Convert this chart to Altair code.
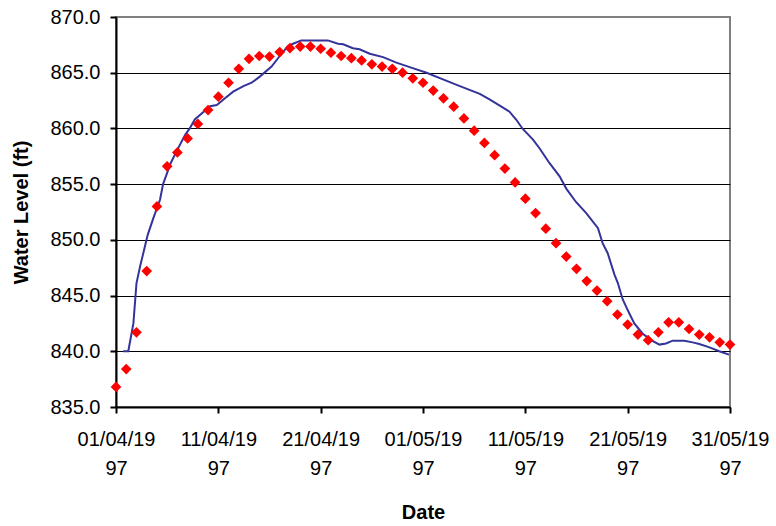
import altair as alt
import pandas as pd

# Daily observed water levels, 1 April - 31 May 1997
obs_start = "1997-04-01"
obs_level = [836.8, 838.4, 841.7, 847.2, 853.0, 856.6, 857.85, 859.1, 860.4, 861.65,
             862.85, 864.1, 865.35, 866.25, 866.5, 866.45, 866.85, 867.2, 867.35, 867.35,
             867.15, 866.8, 866.5, 866.3, 866.1, 865.75, 865.55, 865.35, 865.0, 864.5,
             864.1, 863.4, 862.7, 861.95, 860.9, 859.8, 858.7, 857.6, 856.4, 855.15,
             853.7, 852.4, 851.0, 849.7, 848.5, 847.4, 846.3, 845.45, 844.5, 843.3,
             842.4, 841.5, 841.0, 841.7, 842.6, 842.6, 842.0, 841.5, 841.25, 840.8, 840.6]

# Simulated water level (time in days after 1 April 1997)
sim_day = [0.7, 1.2, 1.7, 2.0, 2.35, 3.1, 3.65, 4.3, 4.6, 5.35,
           6.0, 6.75, 7.2, 7.7, 8.2, 9.2, 9.85, 10.65, 11.45, 12.45,
           13.25, 14.05, 15.2, 16.0, 16.8, 17.3, 18.1, 20.7, 21.7, 22.2,
           23.15, 23.8, 24.8, 26.1, 27.4, 28.7, 30.35, 31.95, 33.6, 35.55,
           36.5, 37.5, 38.45, 39.1, 39.75, 40.75, 41.4, 42.35, 43.35, 44.0,
           44.95, 45.95, 47.1, 47.55, 48.05, 48.7, 49.05, 49.5, 50.0, 50.65,
           51.45, 52.3, 53.1, 53.75, 54.4, 55.55, 56.35, 57.0, 58.0, 58.95, 59.9]
sim_level = [840.0, 840.0, 842.5, 846.1, 847.6, 850.45, 851.95, 853.6, 855.0, 856.9,
             858.1, 859.4, 860.0, 860.8, 861.2, 862.0, 862.1, 862.7, 863.3, 863.8,
             864.1, 864.65, 865.55, 866.5, 867.4, 867.6, 867.9, 867.9, 867.6, 867.55,
             867.2, 867.1, 866.7, 866.4, 865.9, 865.5, 865.0, 864.4, 863.8, 863.1,
             862.6, 862.05, 861.5, 860.8, 859.95, 859.0, 858.2, 856.9, 855.7, 854.6,
             853.4, 852.4, 851.05, 849.7, 848.8, 846.9, 846.1, 844.7, 843.7, 842.5,
             841.6, 841.0, 840.6, 840.7, 840.95, 840.95, 840.8, 840.65, 840.35, 840.0, 839.7]

y_ticks = [835, 840, 845, 850, 855, 860, 865, 870]
tick_dates = ["1997-04-01", "1997-04-11", "1997-04-21", "1997-05-01",
              "1997-05-11", "1997-05-21", "1997-05-31"]

start = pd.Timestamp(obs_start)
fmt = "%Y-%m-%dT%H:%M:%S"
obs = pd.DataFrame({
    "date": pd.date_range(start, periods=len(obs_level), freq="D").strftime(fmt),
    "level": obs_level,
})
sim = pd.DataFrame({
    "date": (start + pd.to_timedelta(sim_day, unit="D")).strftime(fmt),
    "level": sim_level,
})

def dt(s):
    t = pd.Timestamp(s)
    return alt.DateTime(year=t.year, month=t.month, date=t.day)

FONT = "Liberation Sans"

x_enc = alt.X(
    "date:T",
    scale=alt.Scale(domain=[dt(tick_dates[0]), dt(tick_dates[-1])]),
    axis=alt.Axis(
        title="Date",
        values=[dt(d) for d in tick_dates],
        labelExpr="[slice(timeFormat(datum.value, '%d/%m/%Y'), 0, 8), slice(timeFormat(datum.value, '%d/%m/%Y'), 8)]",
        labelLineHeight=29,
        labelPadding=16,
        titlePadding=24,
        grid=False,
        labelOverlap=False,
        labelFlush=False,
    ),
)
y_enc_axis = alt.Axis(
    title="Water Level (ft)",
    values=y_ticks,
    format=".1f",
    labelPadding=10,
    titlePadding=18,
    grid=True,
    gridColor=alt.condition("datum.value >= 870", alt.value("#808080"), alt.value("black")),
    gridWidth=1,
)
y_scale = alt.Scale(domain=[835, 870], nice=False, zero=False)

line = alt.Chart(sim).mark_line(color="#333399", strokeWidth=2, clip=False).encode(
    x=x_enc,
    y=alt.Y("level:Q", scale=y_scale, axis=y_enc_axis),
)
points = alt.Chart(obs).mark_point(
    shape="diamond", filled=True, color="#FF0000", size=115, opacity=1, clip=False
).encode(
    x=alt.X("date:T"),
    y=alt.Y("level:Q"),
)

chart = alt.layer(line, points).properties(
    width=614,
    height=390,
    autosize=alt.AutoSizeParams(type="none"),
    padding={"left": 116, "top": 17, "right": 46, "bottom": 119},
    background="white",
).configure_view(
    stroke="#808080", strokeWidth=2
).configure_axis(
    labelFont=FONT,
    titleFont=FONT,
    labelFontSize=20,
    titleFontSize=20,
    titleFontWeight="bold",
    labelColor="black",
    titleColor="black",
    domainColor="black",
    domainWidth=2,
    tickColor="black",
    tickWidth=2,
    tickSize=6,
)

chart.save("out.html", embed_options={"renderer": "svg", "actions": False})
